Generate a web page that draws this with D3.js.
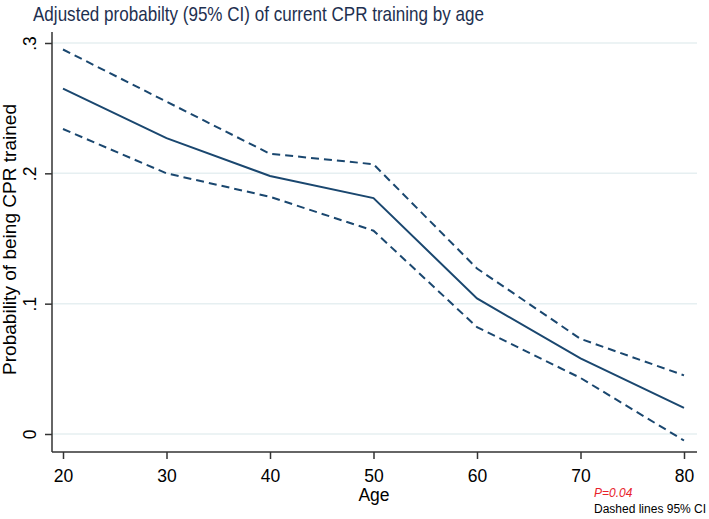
<!DOCTYPE html>
<html><head><meta charset="utf-8">
<script src="https://cdn.jsdelivr.net/npm/d3@7"></script>
<style>body{margin:0;background:#fff;} svg{display:block;font-family:"Liberation Sans",Arial,sans-serif;}</style>
</head><body>
<svg id="c" width="709" height="519"></svg>
<script>
const ages = [20, 30, 40, 50, 60, 70, 80];
const estimate = [0.265, 0.227, 0.198, 0.181, 0.104, 0.058, 0.020];
const upperCI = [0.295, 0.255, 0.215, 0.207, 0.127, 0.073, 0.045];
const lowerCI = [0.234, 0.200, 0.182, 0.156, 0.082, 0.043, -0.005];
const yTicks = [0, 0.1, 0.2, 0.3];
const yTickLabels = ["0", ".1", ".2", ".3"];
const xTicks = [20, 30, 40, 50, 60, 70, 80];

const svg = d3.select("#c");
const x = d3.scaleLinear().domain([20, 80]).range([63, 684]);
const y = d3.scaleLinear().domain([0, 0.3]).range([434, 43]);
const pLeft = 52, pRight = 697, pTop = 32, pBottom = 452;
const navy = "#1a476f";

// gridlines
svg.append("g").selectAll("line").data(yTicks).join("line")
  .attr("x1", pLeft).attr("x2", pRight)
  .attr("y1", d => y(d)).attr("y2", d => y(d))
  .attr("stroke", "#e6eff1").attr("stroke-width", 1.5);

// y axis
const yAxis = d3.axisLeft(y).tickValues(yTicks).tickSize(7).tickPadding(0)
  .tickFormat((d, i) => yTickLabels[i]);
const gy = svg.append("g").attr("transform", `translate(${pLeft},0)`).call(yAxis);
gy.select(".domain").remove();
gy.selectAll(".tick line").attr("stroke", "#333").attr("stroke-width", 1.5);
gy.selectAll(".tick text")
  .attr("x", null).attr("dy", null)
  .attr("transform", "translate(-16,0) rotate(-90)")
  .attr("text-anchor", "middle")
  .attr("font-size", "17.5px").attr("fill", "#000");

// x axis
const xAxis = d3.axisBottom(x).tickValues(xTicks).tickSize(7).tickPadding(0)
  .tickFormat(d3.format("d"));
const gx = svg.append("g").attr("transform", `translate(0,${pBottom})`).call(xAxis);
gx.select(".domain").remove();
gx.selectAll(".tick line").attr("stroke", "#333").attr("stroke-width", 1.5);
gx.selectAll(".tick text").attr("y", 29.5).attr("dy", null)
  .attr("font-size", "17.5px").attr("fill", "#000");

// axis lines
svg.append("line").attr("x1", pLeft).attr("x2", pLeft).attr("y1", pTop).attr("y2", pBottom)
  .attr("stroke", "#333").attr("stroke-width", 1.5);
svg.append("line").attr("x1", pLeft).attr("x2", pRight).attr("y1", pBottom).attr("y2", pBottom)
  .attr("stroke", "#333").attr("stroke-width", 1.5);

// lines
const line = d3.line().x((d, i) => x(ages[i])).y(d => y(d));
svg.append("path").datum(upperCI).attr("d", line).attr("fill", "none")
  .attr("stroke", navy).attr("stroke-width", 2).attr("stroke-dasharray", "8,5");
svg.append("path").datum(lowerCI).attr("d", line).attr("fill", "none")
  .attr("stroke", navy).attr("stroke-width", 2).attr("stroke-dasharray", "8,5");
svg.append("path").datum(estimate).attr("d", line).attr("fill", "none")
  .attr("stroke", navy).attr("stroke-width", 2);

// title
svg.append("text").attr("x", 33).attr("y", 21)
  .attr("font-size", "21px").attr("fill", "#1e3050")
  .attr("textLength", 451).attr("lengthAdjust", "spacingAndGlyphs")
  .text("Adjusted probabilty (95% CI) of current CPR training by age");

// axis titles
svg.append("text").attr("transform", "translate(16,239.5) rotate(-90)")
  .attr("text-anchor", "middle").attr("font-size", "18px").attr("fill", "#000")
  .attr("textLength", 271).attr("lengthAdjust", "spacingAndGlyphs")
  .text("Probability of being CPR trained");
svg.append("text").attr("x", 374).attr("y", 501)
  .attr("text-anchor", "middle").attr("font-size", "17.5px").attr("fill", "#000")
  .text("Age");

// notes
svg.append("text").attr("x", 594).attr("y", 497)
  .attr("font-size", "12px").attr("font-style", "italic").attr("fill", "#e8222a")
  .text("P=0.04");
svg.append("text").attr("x", 594).attr("y", 513)
  .attr("font-size", "12px").attr("fill", "#000")
  .text("Dashed lines 95% CI");
</script>
</body></html>
